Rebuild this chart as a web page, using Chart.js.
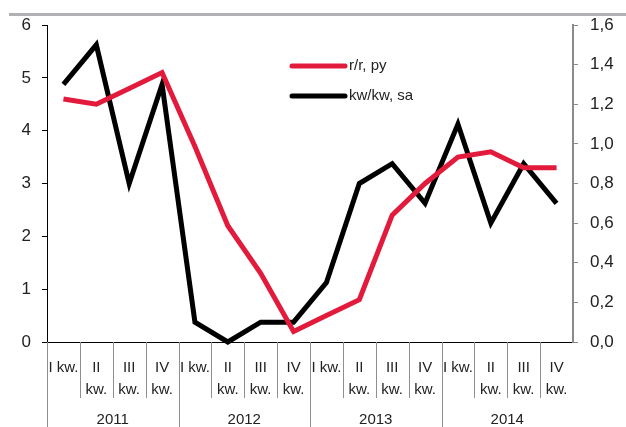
<!DOCTYPE html>
<html>
<head>
<meta charset="utf-8">
<script src="https://cdn.jsdelivr.net/npm/chart.js@4"></script>
<style>
  html, body { margin: 0; padding: 0; background: #fff; }
  #wrap { position: relative; width: 626px; height: 427px; }
</style>
</head>
<body>
<div id="wrap"><canvas id="gdpChart" width="626" height="427"></canvas></div>
<script>
// Quarter labels (multi-line) and years
const quarters = [['I kw.'], ['II', 'kw.'], ['III', 'kw.'], ['IV', 'kw.']];
const years = ['2011', '2012', '2013', '2014'];
const labels = years.flatMap(() => quarters);

// r/r, py (left axis)
const yoy = [4.6, 4.5, 4.8, 5.1, 3.7, 2.2, 1.3, 0.2, 0.5, 0.8, 2.4, 3.0, 3.5, 3.6, 3.3, 3.3];
// kw/kw, sa (right axis)
const qoq = [1.3, 1.5, 0.8, 1.3, 0.1, 0.0, 0.1, 0.1, 0.3, 0.8, 0.9, 0.7, 1.1, 0.6, 0.9, 0.7];

const RED = '#e21a3c';
const FONT = '"Liberation Sans", Arial, sans-serif';

// separators, year labels, legend and the top rule
const decorations = {
    id: 'decorations',
    afterDraw(chart) {
        const ctx = chart.ctx;
        const x = chart.scales.x;
        const area = chart.chartArea;
        const step = x.getPixelForValue(1) - x.getPixelForValue(0);
        ctx.save();

        // top gray rule
        ctx.fillStyle = '#b1b1b5';
        ctx.fillRect(9, 13, chart.width - 9, 3);

        // category separators
        ctx.strokeStyle = '#8f8f8f';
        ctx.lineWidth = 1;
        for (let i = 1; i < labels.length; i++) {
            const px = Math.round(x.getPixelForValue(i) - step / 2) + 0.5;
            const yearEdge = i % quarters.length === 0;
            ctx.beginPath();
            ctx.moveTo(px, area.bottom);
            ctx.lineTo(px, yearEdge ? chart.height : area.bottom + 56);
            ctx.stroke();
        }
        // left edge below axis
        ctx.beginPath();
        ctx.moveTo(area.left + 0.5, area.bottom);
        ctx.lineTo(area.left + 0.5, chart.height);
        ctx.stroke();

        // year labels
        ctx.fillStyle = '#222';
        ctx.font = '15px ' + FONT;
        ctx.textAlign = 'center';
        ctx.textBaseline = 'middle';
        years.forEach((yr, i) => {
            const a = x.getPixelForValue(i * 4) - step / 2;
            const b = x.getPixelForValue(i * 4 + 3) + step / 2;
            ctx.fillText(yr, (a + b) / 2, 420);
        });

        // legend
        ctx.textAlign = 'left';
        ctx.lineCap = 'round';
        ctx.lineWidth = 5;
        chart.data.datasets.forEach((ds, i) => {
            const ly = 66 + i * 30;
            ctx.strokeStyle = ds.borderColor;
            ctx.beginPath();
            ctx.moveTo(292, ly);
            ctx.lineTo(345, ly);
            ctx.stroke();
            ctx.fillStyle = '#222';
            ctx.fillText(ds.label, 349, ly);
        });
        ctx.restore();
    }
};

new Chart(document.getElementById('gdpChart'), {
    type: 'line',
    data: {
        labels: labels,
        datasets: [{
            label: 'r/r, py',
            data: yoy,
            yAxisID: 'y',
            borderColor: RED,
            borderWidth: 5,
            pointRadius: 0,
            tension: 0,
            clip: false
        }, {
            label: 'kw/kw, sa',
            data: qoq,
            yAxisID: 'y2',
            borderColor: '#000',
            borderWidth: 5,
            pointRadius: 0,
            tension: 0,
            clip: false
        }]
    },
    options: {
        responsive: false,
        animation: false,
        layout: { padding: { top: 25, left: 0, right: 0, bottom: 0 } },
        plugins: {
            legend: { display: false },
            tooltip: { enabled: false }
        },
        scales: {
            x: {
                offset: true,
                grid: { display: false },
                border: { display: true, color: '#000', width: 1 },
                ticks: {
                    autoSkip: false,
                    maxRotation: 0,
                    padding: 7,
                    color: '#222',
                    font: { family: FONT, size: 15, lineHeight: 22 / 15 }
                },
                afterFit: s => { s.height = 85; }
            },
            y: {
                position: 'left',
                min: 0,
                max: 6,
                grid: { drawOnChartArea: false, color: '#000', tickLength: 5 },
                border: { color: '#000' },
                ticks: {
                    stepSize: 1,
                    padding: 11,
                    color: '#222',
                    font: { family: FONT, size: 17 }
                },
                afterFit: s => { s.width = 47; }
            },
            y2: {
                position: 'right',
                min: 0,
                max: 1.6,
                grid: { drawOnChartArea: false, color: '#8a8a8a', tickLength: 5 },
                border: { color: '#8a8a8a', width: 2 },
                ticks: {
                    stepSize: 0.2,
                    padding: 12,
                    color: '#222',
                    font: { family: FONT, size: 17 },
                    callback: v => v.toFixed(1).replace('.', ',')
                },
                afterFit: s => { s.width = 53; }
            }
        }
    },
    plugins: [decorations]
});
</script>
</body>
</html>
